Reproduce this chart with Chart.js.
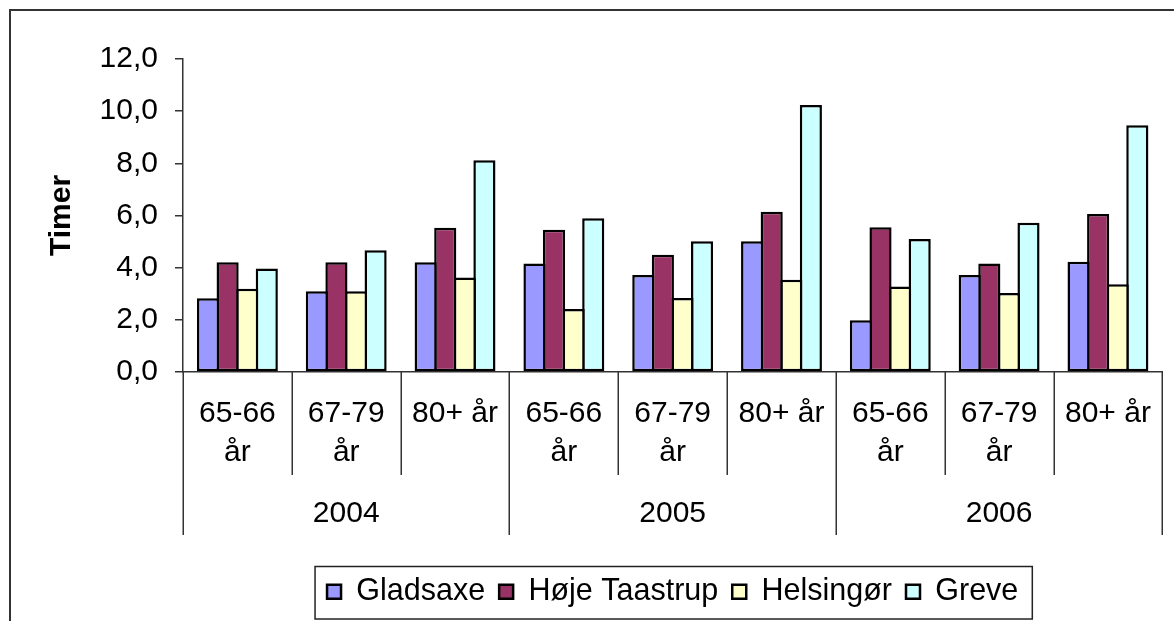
<!DOCTYPE html>
<html>
<head>
<meta charset="utf-8">
<style>
  html, body { margin: 0; padding: 0; background: #ffffff; }
  canvas { display: block; }
</style>
<script src="https://cdn.jsdelivr.net/npm/chart.js@4.4.1/dist/chart.umd.min.js"></script>
</head>
<body>
<canvas id="chart" width="1174" height="621"></canvas>
<script>
// Age groups per year (inner axis) and the years (outer axis)
const ageGroups = [
  ['65-66', 'år'], ['67-79', 'år'], ['80+ år'],
  ['65-66', 'år'], ['67-79', 'år'], ['80+ år'],
  ['65-66', 'år'], ['67-79', 'år'], ['80+ år']
];
const years = ['2004', '2005', '2006'];

// Hours per municipality, one value per age group and year
const gladsaxe     = [2.83, 3.10, 4.21, 4.16, 3.72, 5.01, 1.98, 3.72, 4.23];
const hojeTaastrup = [4.21, 4.21, 5.53, 5.45, 4.50, 6.14, 5.55, 4.16, 6.06];
const helsingor    = [3.19, 3.10, 3.62, 2.42, 2.84, 3.54, 3.28, 3.03, 3.36];
const greve        = [3.97, 4.67, 8.12, 5.89, 5.01, 10.24, 5.10, 5.72, 9.46];

const seriesNames = ['Gladsaxe', 'Høje Taastrup', 'Helsingør', 'Greve'];
const seriesColors = ['#9999FF', '#993366', '#FFFFCC', '#CCFFFF'];

// Value axis
const yMin = 0;
const yMax = 12;
const yStep = 2;

const FONT = 'Liberation Sans, Arial, sans-serif';
const BAR_BORDER = 2.5;

// White page, outer frame and the group separators below the category axis
const framePlugin = {
  id: 'frame',
  beforeDraw(chart) {
    const ctx = chart.ctx;
    ctx.save();
    ctx.fillStyle = '#ffffff';
    ctx.fillRect(0, 0, chart.width, chart.height);
    ctx.restore();
  },
  afterDraw(chart) {
    const ctx = chart.ctx;
    const x = chart.scales.x;
    const x2 = chart.scales.x2;
    ctx.save();
    // separators between categories; every third one reaches down past the years
    ctx.strokeStyle = '#333333';
    ctx.lineWidth = 1.5;
    for (let i = 0; i <= ageGroups.length; i++) {
      const px = Math.round(x.getPixelForValue(i - 0.5)) + 0.25;
      const bottom = (i % 3 === 0) ? x2.top + 60 : x.bottom;
      ctx.beginPath();
      ctx.moveTo(px, x.top);
      ctx.lineTo(px, bottom);
      ctx.stroke();
    }
    // border around the legend items
    const boxes = chart.legend.legendHitBoxes;
    if (boxes && boxes.length) {
      const first = boxes[0];
      const last = boxes[boxes.length - 1];
      const left = first.left - 12;
      const right = last.left + last.width + 14;
      const top = first.top - 10;
      const bottom = first.top + first.height + 12;
      ctx.strokeStyle = '#222222';
      ctx.lineWidth = 1.5;
      ctx.strokeRect(left, top, right - left, bottom - top);
    }
    // outer frame of the chart
    ctx.strokeStyle = '#333333';
    ctx.lineWidth = 2;
    ctx.strokeRect(10, 10, 1200, 700);
    ctx.restore();
  }
};

const datasets = [gladsaxe, hojeTaastrup, helsingor, greve].map((values, i) => ({
  label: seriesNames[i],
  data: values,
  backgroundColor: seriesColors[i],
  borderColor: '#000000',
  borderWidth: BAR_BORDER,
  borderSkipped: false,
  categoryPercentage: 0.72,
  barPercentage: 1.13
}));

new Chart(document.getElementById('chart'), {
  type: 'bar',
  data: { labels: ageGroups, datasets },
  plugins: [framePlugin],
  options: {
    responsive: false,
    animation: false,
    devicePixelRatio: 1,
    layout: { padding: { left: 0, top: 59, right: 11, bottom: 4 } },
    plugins: {
      tooltip: { enabled: false },
      legend: {
        position: 'bottom',
        fullSize: false,
        labels: {
          font: { family: FONT, size: 30.5 },
          color: '#000000',
          boxWidth: 14,
          boxHeight: 14,
          padding: 14
        }
      }
    },
    scales: {
      y: {
        min: yMin,
        max: yMax,
        afterFit(scale) { scale.width = 183; },
        ticks: {
          stepSize: yStep,
          padding: 17,
          color: '#000000',
          font: { family: FONT, size: 30 },
          callback: v => v.toFixed(1).replace('.', ',')
        },
        grid: { display: true, drawOnChartArea: false, drawTicks: true, tickLength: 8, color: '#333333', lineWidth: 1.5 },
        border: { display: true, color: '#333333', width: 1.5 },
        title: {
          display: true,
          text: 'Timer',
          color: '#000000',
          font: { family: FONT, size: 30, weight: 'bold' },
          padding: { top: 44, bottom: 0 }
        }
      },
      x: {
        weight: 0,
        afterFit(scale) { scale.height = 103; },
        ticks: {
          autoSkip: false,
          maxRotation: 0,
          padding: 22.5,
          color: '#000000',
          font: { family: FONT, size: 30, lineHeight: 1.3 }
        },
        grid: { display: false, drawTicks: false },
        border: { display: true, color: '#333333', width: 1.5 }
      },
      x2: {
        type: 'category',
        position: 'bottom',
        weight: 1,
        labels: years,
        afterFit(scale) { scale.height = 87.5; },
        ticks: {
          autoSkip: false,
          maxRotation: 0,
          padding: 19.5,
          color: '#000000',
          font: { family: FONT, size: 30, lineHeight: 1.3 }
        },
        grid: { display: false, drawTicks: false },
        border: { display: false }
      }
    }
  }
});
</script>
</body>
</html>
